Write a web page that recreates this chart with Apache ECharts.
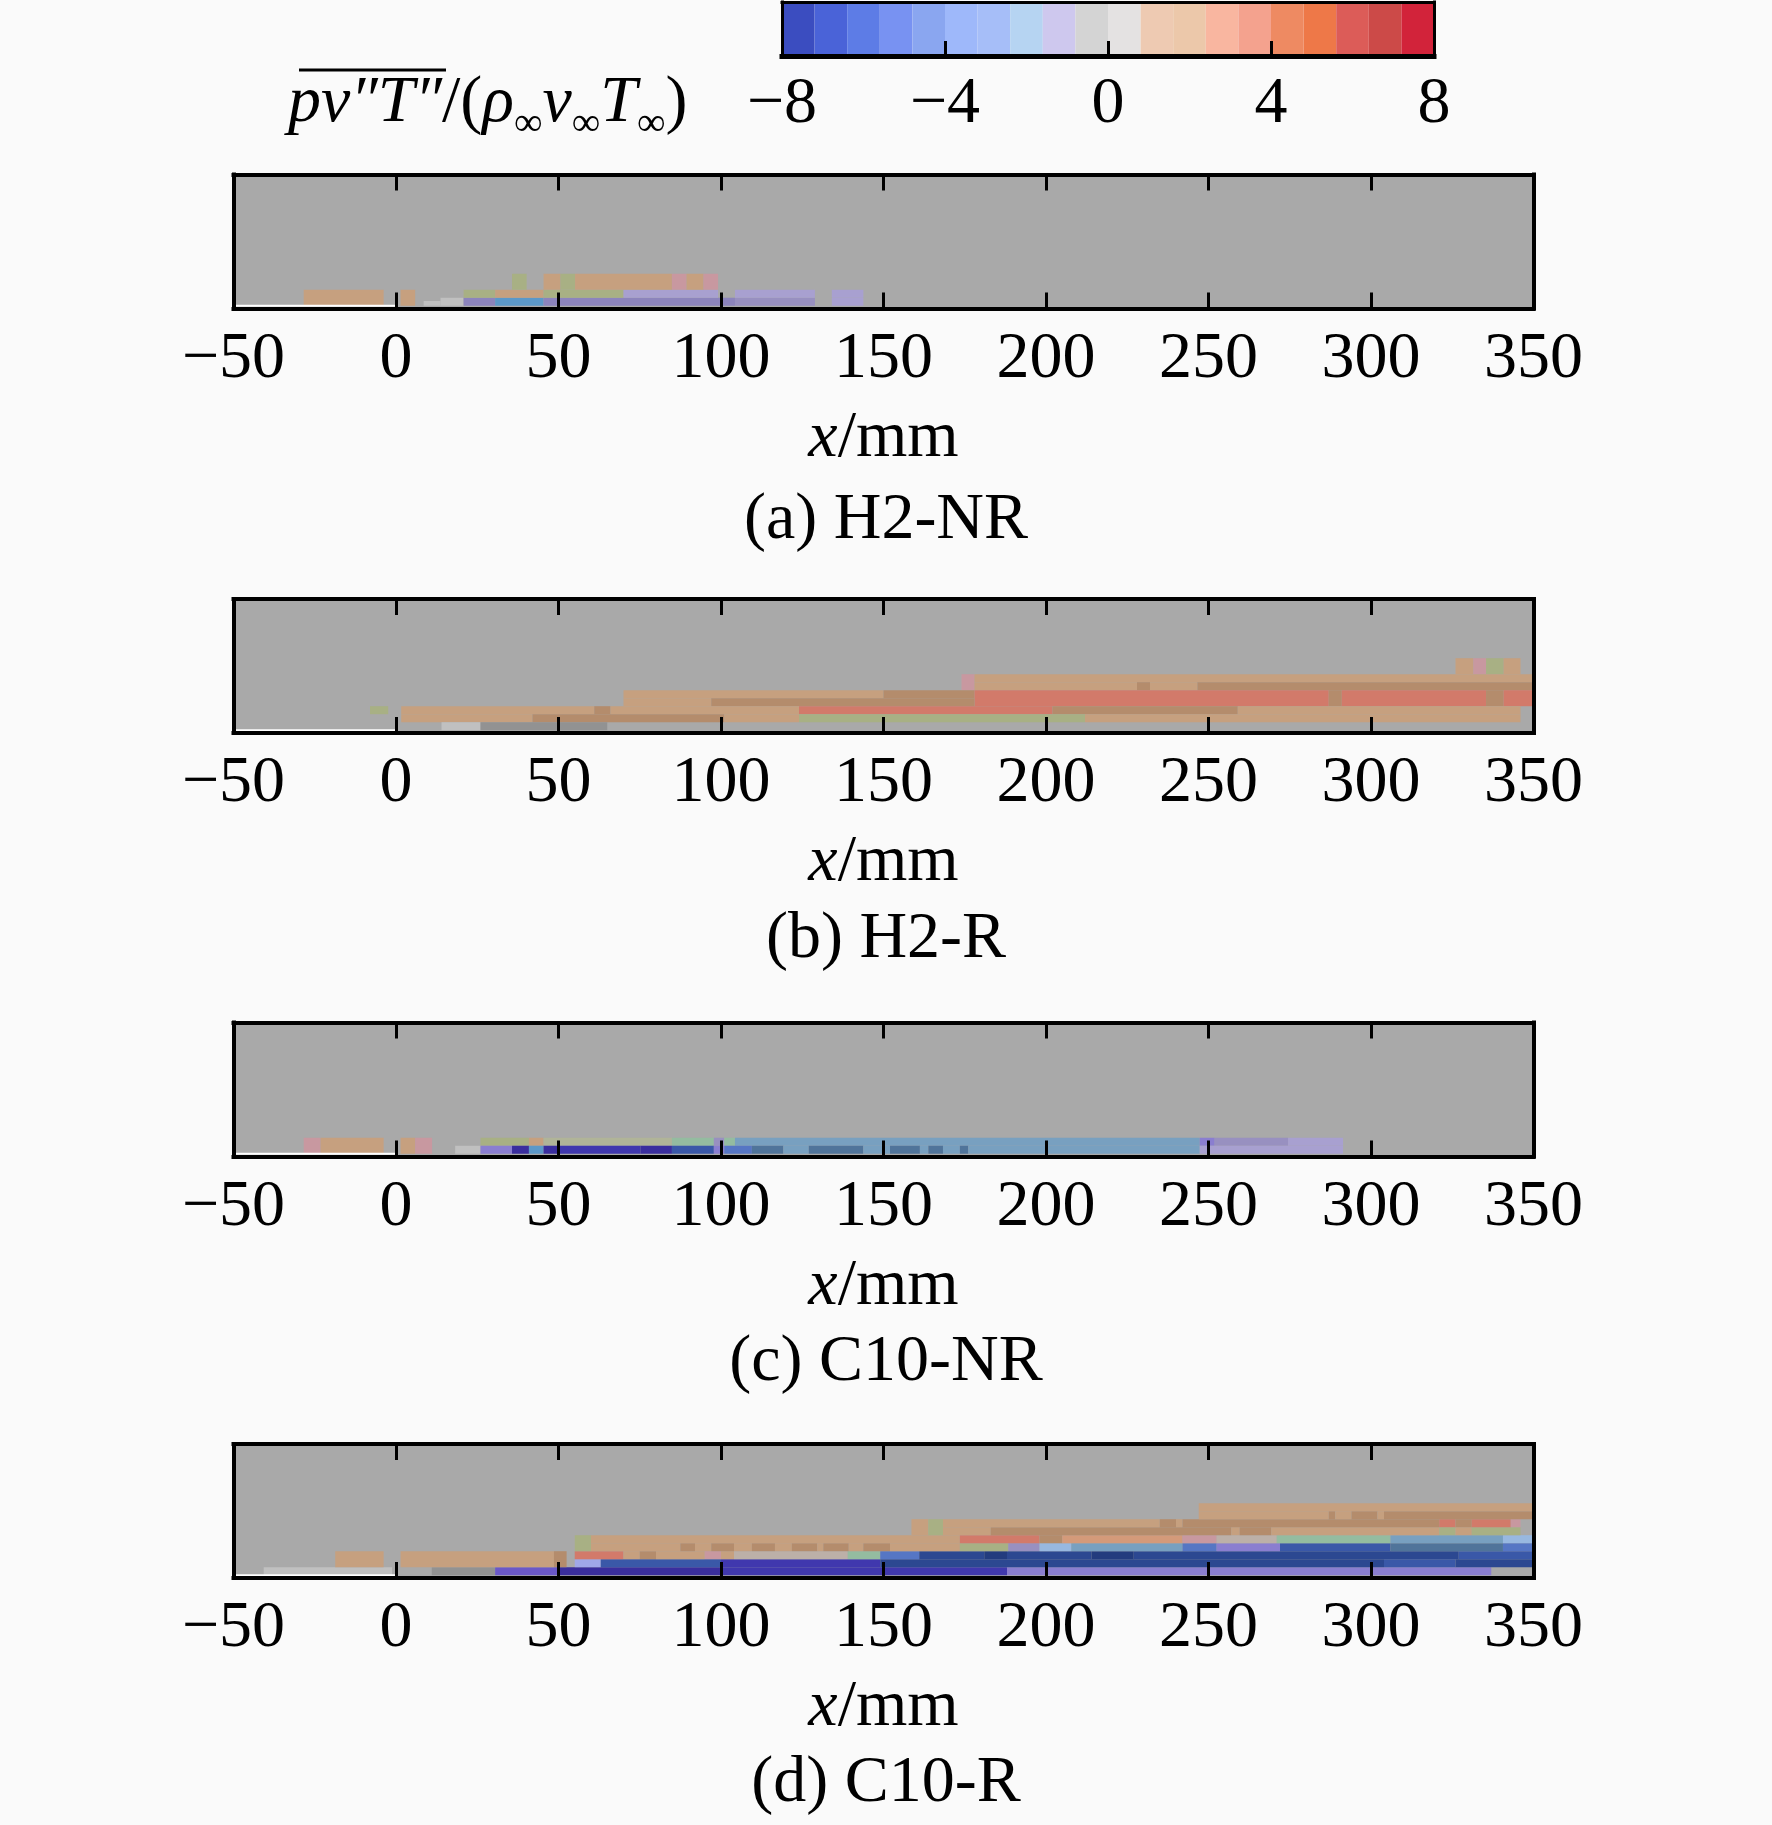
<!DOCTYPE html>
<html>
<head>
<meta charset="utf-8">
<script src="https://cdn.jsdelivr.net/npm/echarts@6/dist/echarts.min.js"></script>
<style>
  html, body { margin: 0; padding: 0; background: #fafafa; }
  #chart { width: 1772px; height: 1825px; }
</style>
</head>
<body>
<div id="chart"></div>
<script>
// x ticks (mm) and colour bar ticks
const xTicks = [-50, 0, 50, 100, 150, 200, 250, 300, 350];
const barTicks = [-8, -4, 0, 4, 8];
const captions = ["(a) H2-NR", "(b) H2-R", "(c) C10-NR", "(d) C10-R"];

// colour bar levels (edges) and their colours
const barEdges = [-8, -7.2, -6.4, -5.6, -4.8, -4, -3.2, -2.4, -1.6, -0.8, 0,
                  0.8, 1.6, 2.4, 3.2, 4, 4.8, 5.6, 6.4, 7.2, 8];
const barColors = ["#3b4dc0", "#4a63d8", "#5d7ce6", "#7892f2", "#8aa6f0",
                   "#9eb8fa", "#a6bef8", "#b6d4f2", "#cec8ee", "#d4d4d4",
                   "#e4e2e2", "#eecab2", "#ecc8aa", "#f9b6a0", "#f4a28e",
                   "#ee8a62", "#ee7848", "#dc5c58", "#cc4a48", "#d2233a"];

// level -> colour as it appears in the contour panels
const panelLevels = [-8, -7.5, -7, -6.5, -6, -5.5, -5, -4.5, -4, -3.5, -3, -2.5, -2,
                     -1.5, -1, -0.5, -0.2, 0, 0.4, 0.6, 0.8, 1, 1.5, 2, 2.5, 3, 4];
const panelColors = ["#3a2e9e", "#4038ae", "#2c4891", "#233c7e", "#3a58a8", "#5676c4",
                     "#50749a", "#5c98c8", "#78a0c0", "#6a58c8", "#8a7ed0", "#8c84bc",
                     "#9890c0", "#a8a0d0", "#a0a8e8", "#98b8e0", "#929292", "#c0c0c0",
                     "#bcb0a8", "#94bca0", "#b0b498", "#a8b084", "#c898a0", "#c6a07f",
                     "#b48c6c", "#d49a7a", "#d27a6a"];

// cells: [x0 (mm), x1 (mm), row0, row1, level]
const cellsA = [
  [-28.4, -3.8, 0, 2, 2], [1.4, 5.9, 0, 2, 2], [8.5, 13.7, 0, 0.6, 0], [13.7, 20.8, 0, 1, 0],
  [20.8, 30.5, 0, 1, -2.5], [30.5, 45.4, 0, 1, -4.5], [45.4, 104.3, 0, 1, -2.5],
  [104.3, 128.9, 0, 1, -2], [134.1, 143.8, 0, 1, -1.5],
  [20.8, 30.5, 1, 2, 1], [30.5, 45.4, 1, 2, 2], [45.4, 70, 1, 2, 1], [70, 99.1, 1, 2, -1.5],
  [104.3, 128.9, 1, 2, -1.5], [134.1, 143.8, 1, 2, -1.5],
  [35.7, 40.2, 2, 4, 1], [45.4, 50.6, 2, 4, 2], [50.6, 55.1, 2, 4, 1], [55.1, 84.9, 2, 4, 2],
  [84.9, 89.4, 2, 4, 1.5], [89.4, 94.6, 2, 4, 2], [94.6, 99.1, 2, 4, 1.5]
];
const cellsB = [
  [326, 331.5, 7, 9, 2], [331.5, 335.4, 7, 9, 1.5], [335.4, 340.8, 7, 9, 1], [340.8, 346, 7, 9, 2],
  [174, 178, 5, 7, 1.5], [178, 350, 6, 7, 2],
  [178, 228, 5, 6, 2], [228, 232, 5, 6, 2.5], [232, 246.6, 5, 6, 2], [246.6, 350, 5, 6, 2.5],
  [70, 150, 4, 5, 2], [150, 178, 4, 5, 2.5], [178, 287, 3, 5, 4], [287, 291, 3, 5, 2.5],
  [291, 335.4, 3, 5, 4], [335.4, 340.8, 3, 5, 2.5], [340.8, 350, 3, 5, 4],
  [70, 97, 3, 4, 2], [97, 178, 3, 4, 2.5],
  [-8, -2.4, 2, 3, 1], [1.6, 61, 2, 3, 2], [61, 66, 2, 3, 2.5], [66, 124, 2, 3, 2],
  [124, 202, 2, 3, 4], [202, 259, 2, 3, 2.5], [259, 346, 2, 3, 2],
  [1.6, 42, 1, 2, 2], [42, 101, 1, 2, 2.5], [101, 124, 1, 2, 2], [124, 212, 1, 2, 1], [212, 346, 1, 2, 2],
  [14, 26, 0, 1, 0], [26, 65, 0, 1, -0.2]
];
const cellsC = [
  [-28.4, -23.2, 0, 2, 1.5], [-23.2, -3.8, 0, 2, 2], [1.4, 5.9, 0, 2, 2], [5.9, 11.1, 0, 2, 1.5],
  [26, 40.9, 1, 2, 1], [40.9, 45.4, 1, 2, 2], [45.4, 84.9, 1, 2, 0.8], [84.9, 97.8, 1, 2, 0.6],
  [97.8, 101, 1, 2, -2], [101, 104.3, 1, 2, 0.6], [104.3, 247.3, 1, 2, -4], [247.3, 251.9, 1, 2, -3],
  [251.9, 274.5, 1, 2, -2], [274.5, 291.4, 1, 2, -1.5],
  [18.2, 26, 0, 1, 0], [26, 35.7, 0, 1, -3], [35.7, 40.9, 0, 1, -8], [40.9, 45.4, 0, 1, -4.5],
  [45.4, 49.9, 0, 1, -8], [49.9, 75.2, 0, 1, -7.5], [75.2, 84.9, 0, 1, -8], [84.9, 97.8, 0, 1, -6],
  [97.8, 101, 0, 1, -3], [101, 109.5, 0, 1, -5.5], [109.5, 119.2, 0, 1, -5], [119.2, 127, 0, 1, -4],
  [127, 143.8, 0, 1, -5], [143.8, 152, 0, 1, -4], [152, 161.2, 0, 1, -5], [161.2, 163.8, 0, 1, -4],
  [163.8, 168.3, 0, 1, -5], [168.3, 173.5, 0, 1, -4], [173.5, 176.1, 0, 1, -5], [176.1, 247.3, 0, 1, -4],
  [247.3, 291.4, 0, 1, -1.5]
];
const cellsD = [
  [-40.7, -1.2, 0, 1, 0], [11, 30.5, 0, 1, -0.2], [30.5, 50, 0, 1, -3.5], [50, 100, 0, 1, -8],
  [100, 188, 0, 1, -7.5], [188, 337, 0, 1, -3],
  [-18.7, -3.8, 1, 3, 2], [1.4, 48.6, 1, 3, 2], [48.6, 52.5, 1, 3, 2.5], [55, 63, 1, 2, -1],
  [63, 100, 1, 2, -6], [100, 149, 1, 2, -7.5], [149, 304, 1, 2, -7], [304, 326, 1, 2, -6], [326, 350, 1, 2, -7],
  [55, 70, 2, 3, 4], [70, 75, 2, 3, 2], [75, 80, 2, 3, 2.5], [80, 95, 2, 3, 2], [95, 100, 2, 3, 1.5],
  [100, 104, 2, 3, 2], [104, 139, 2, 3, 0.4], [139, 149, 2, 3, 0.6], [149, 161, 2, 3, -5.5],
  [161, 181, 2, 3, -7], [181, 188, 2, 3, -6.5], [188, 214, 2, 3, -7], [214, 227, 2, 3, -6.5],
  [227, 327, 2, 3, -7], [327, 350, 2, 3, -6],
  [55, 60, 3, 5, 1], [60, 87.5, 3, 4, 2], [87.5, 92, 3, 4, 2.5], [92, 97, 3, 4, 2], [97, 104, 3, 4, 2.5],
  [104, 109.5, 3, 4, 2], [109.5, 116.6, 3, 4, 2.5], [116.6, 121.8, 3, 4, 2], [121.8, 129.6, 3, 4, 2.5],
  [129.6, 131.5, 3, 4, 2], [131.5, 139.3, 3, 4, 2.5], [139.3, 143.8, 3, 4, 2], [143.8, 152, 3, 4, 2.5],
  [152, 173.5, 3, 4, 2], [173.5, 188.4, 3, 4, 1], [188.4, 198, 3, 4, -2], [198, 207.8, 3, 4, -0.5],
  [207.8, 242, 3, 4, -4], [242, 252.5, 3, 4, -5.5], [252.5, 272, 3, 4, -3], [272, 306, 3, 4, -6],
  [306, 340.6, 3, 4, -5], [340.6, 350, 3, 4, -5.5],
  [60, 173.5, 4, 5, 2], [173.5, 198, 4, 5, 4], [198, 205, 4, 5, 2.5], [205, 242, 4, 5, 3],
  [242, 252.5, 4, 5, 1.5], [252.5, 271, 4, 5, 0.4], [271, 306, 4, 5, 0.6], [306, 340.6, 4, 5, -4],
  [340.6, 350, 4, 5, -0.5],
  [158.6, 163.8, 5, 7, 2], [163.8, 168.3, 5, 7, 1], [168.3, 183, 5, 6, 2], [183, 257, 5, 6, 2.5],
  [257, 259.6, 5, 6, 2], [259.6, 269.3, 5, 6, 2.5], [269.3, 321, 5, 6, 2], [321, 326, 5, 6, 1],
  [326, 331, 5, 6, 2], [331, 346, 5, 6, 1],
  [168.3, 235, 6, 7, 2], [235, 240, 6, 7, 2.5], [240, 242, 6, 7, 2], [242, 321, 6, 7, 2.5],
  [321, 326, 6, 7, 4], [326, 331, 6, 7, 2.5], [331, 343, 6, 7, 4], [343, 346, 6, 7, 1.5],
  [247, 287, 7, 8, 2], [287, 289, 7, 8, 2.5], [289, 294, 7, 8, 2], [294, 302, 7, 8, 2.5],
  [302, 304, 7, 8, 2], [304, 350, 7, 8, 2.5],
  [247, 350, 8, 9, 2]
];
// plate wall ahead of the injector (white line at y = 0)
const wallX = [-50, 0];

const FONT = "'Liberation Serif', 'Times New Roman', serif";
const panelTops = [174.5, 599, 1022.5, 1444];
const captionY = [518, 937, 1360, 1781];
const panels = [cellsA, cellsB, cellsC, cellsD];
const minus = v => String(v).replace("-", "\u2212");

const renderCell = (params, api) => {
    const p0 = api.coord([api.value(0), api.value(3)]);
    const p1 = api.coord([api.value(1), api.value(2)]);
    return {
        type: "rect",
        shape: { x: p0[0], y: p0[1], width: p1[0] - p0[0], height: p1[1] - p0[1] },
        style: { fill: api.visual("color") }
    };
};

const frame = (w) => ({ show: true, onZero: false, lineStyle: { color: "#000", width: w, cap: "square" } });

const grids = [], xAxes = [], yAxes = [], series = [], titles = [];
panelTops.forEach((top, i) => {
    grids.push({ left: 233.5, top, width: 1300, height: 134, show: true,
                 backgroundColor: "#a9a9a9", borderWidth: 0 });
    const common = {
        gridIndex: i, type: "value", min: xTicks[0], max: xTicks[xTicks.length - 1], interval: 50,
        z: 10, splitLine: { show: false }, axisLine: frame(4),
        axisTick: { inside: true, length: 16, lineStyle: { color: "#000", width: 3 } }
    };
    xAxes.push(Object.assign({}, common, {
        position: "bottom",
        axisLabel: { margin: 18, fontSize: 66, fontFamily: FONT, color: "#000", formatter: minus },
        name: "{i|x}{n|/mm}", nameLocation: "middle", nameGap: 97,
        nameTextStyle: {
            color: "#000",
            rich: {
                i: { fontFamily: FONT, fontSize: 66, fontStyle: "italic", color: "#000" },
                n: { fontFamily: FONT, fontSize: 66, color: "#000" }
            }
        }
    }));
    xAxes.push(Object.assign({}, common, { position: "top", axisLabel: { show: false } }));
    ["left", "right"].forEach(pos => yAxes.push({
        gridIndex: i, type: "value", min: -0.35, max: 16.4, position: pos, z: 10,
        axisLine: frame(4), axisTick: { show: false }, axisLabel: { show: false }, splitLine: { show: false }
    }));
    titles.push({
        text: captions[i], left: "center", top: captionY[i] - 35,
        textStyle: { fontFamily: FONT, fontSize: 66, fontWeight: "normal", color: "#000" }
    });
});
panels.forEach((cells, i) => series.push({
    type: "custom", xAxisIndex: 2 * i, yAxisIndex: 2 * i, renderItem: renderCell,
    encode: { x: [0, 1], y: [2, 3] }, data: cells, clip: true, z: 2
}));
panels.forEach((cells, i) => series.push({
    type: "line", xAxisIndex: 2 * i, yAxisIndex: 2 * i, data: wallX.map(x => [x, 0]),
    symbol: "none", lineStyle: { color: "#ffffff", width: 2 }, z: 3, silent: true
}));

// colour bar
grids.push({ left: 782, top: 2, width: 652, height: 54, show: false });
xAxes.push({
    gridIndex: 4, type: "value", min: barTicks[0], max: barTicks[barTicks.length - 1], interval: 4,
    position: "bottom", z: 10, splitLine: { show: false }, axisLine: frame(5),
    axisTick: { inside: true, length: 15, lineStyle: { color: "#000", width: 3 } },
    axisLabel: { margin: 16, fontSize: 66, fontFamily: FONT, color: "#000", formatter: minus }
});
xAxes.push({
    gridIndex: 4, type: "value", min: -8, max: 8, position: "top", z: 10,
    axisLine: frame(3), axisTick: { show: false }, axisLabel: { show: false }, splitLine: { show: false }
});
["left", "right"].forEach(pos => yAxes.push({
    gridIndex: 4, type: "value", min: 0, max: 1, position: pos, z: 10,
    axisLine: frame(3), axisTick: { show: false }, axisLabel: { show: false }, splitLine: { show: false }
}));
series.push({
    type: "custom", xAxisIndex: 8, yAxisIndex: 8, renderItem: renderCell,
    encode: { x: [0, 1], y: [2, 3] },
    data: barEdges.slice(0, -1).map((e, i) => [e, barEdges[i + 1], 0, 1]), z: 2
});

const chart = echarts.init(document.getElementById("chart"), null, { renderer: "canvas" });
chart.setOption({
    backgroundColor: "#fafafa",
    animation: false,
    title: titles,
    grid: grids,
    xAxis: xAxes,
    yAxis: yAxes,
    visualMap: [
        {
            type: "piecewise", show: false, seriesIndex: [0, 1, 2, 3], dimension: 4,
            pieces: panelLevels.map((v, i) => ({ value: v, color: panelColors[i] }))
        },
        {
            type: "piecewise", show: false, seriesIndex: 8, dimension: 0,
            pieces: barColors.map((c, i) => ({ gte: barEdges[i], lt: barEdges[i + 1], color: c }))
        }
    ],
    graphic: [
        {
            type: "text", left: 288, top: 71, z: 20,
            style: {
                text: "{i|pv\u2033T\u2033}{n|/(}{i|\u03c1}{s|\u221e}{i|v}{s|\u221e}{i|T}{s|\u221e}{n|)}",
                rich: {
                    i: { fontFamily: FONT, fontSize: 66, fontStyle: "italic", lineHeight: 80, fill: "#000" },
                    n: { fontFamily: FONT, fontSize: 66, lineHeight: 80, fill: "#000" },
                    s: { fontFamily: FONT, fontSize: 40, lineHeight: 38, verticalAlign: "bottom", fill: "#000" }
                }
            }
        },
        {
            type: "line", z: 20,
            shape: { x1: 299, y1: 70, x2: 446, y2: 70 },
            style: { stroke: "#000", lineWidth: 3 }
        }
    ],
    series
});
</script>
</body>
</html>
